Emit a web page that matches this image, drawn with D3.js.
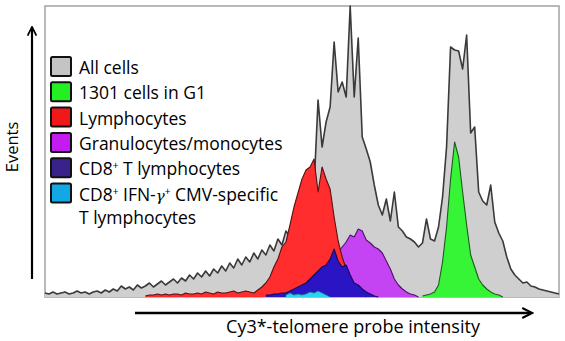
<!DOCTYPE html>
<html>
<head>
<meta charset="utf-8">
<script src="https://cdn.jsdelivr.net/npm/d3@7"></script>
<style>
  body { margin: 0; background: #fff; }
  svg { display: block; font-family: "Open Sans", Lato, sans-serif; }
</style>
</head>
<body>
<div class="canvas"></div>
<script>
// histogram bins (4 channels wide), heights
const allCells = [4, 3, 5, 3, 4, 5, 3, 4, 6, 4, 5, 3, 5, 6, 4, 7, 5, 8, 6, 11,
  8, 10, 7, 12, 9, 11, 14, 10, 13, 16, 12, 15, 18, 14, 19, 16, 22, 18, 24, 20,
  26, 21, 28, 24, 31, 26, 34, 29, 38, 32, 40, 35, 44, 38, 47, 42, 52, 46, 58, 52,
  66, 60, 78, 72, 105, 90, 128, 110, 197, 150, 175, 190, 255, 205, 215, 200, 291, 200, 259, 160,
  148, 135, 112, 92, 82, 98, 76, 105, 70, 66, 60, 58, 55, 50, 54, 78, 58, 56, 70, 100,
  150, 250, 247, 246, 228, 262, 164, 170, 105, 96, 92, 112, 75, 64, 56, 40, 28, 22, 18, 14,
  15, 11, 10, 8, 7, 6, 5, 4, 3];
const allStart = 0;

const g1Cells = [1, 2, 3, 5, 12, 35, 70, 118, 155, 140, 105, 72, 42, 30, 18, 12, 8, 5, 3, 2, 0];
const g1Start = 94;

const lymphocytes = [1, 2, 2, 3, 2, 3, 2, 3, 3, 2, 4, 3, 3, 4, 3, 5, 4, 3, 5, 4,
  4, 5, 6, 4, 5, 6, 5, 4, 7, 10, 14, 20, 30, 38, 50, 55, 72, 90, 104, 118,
  127, 130, 138, 105, 130, 118, 108, 80, 56, 40, 28, 16, 10, 5, 2, 0];
const lymphStart = 25;

const granulocytes = [2, 4, 6, 8, 10, 15, 20, 30, 40, 45, 50, 55, 62, 60, 68, 66, 57, 54, 50, 48,
  44, 36, 28, 18, 12, 8, 5, 3, 2, 0];
const granStart = 64;

const cd8 = [2, 2, 3, 3, 4, 4, 6, 8, 10, 12, 14, 18, 22, 26, 30, 32, 38, 48, 36, 30,
  32, 22, 14, 12, 8, 5, 3, 1, 0];
const cd8Start = 55;

const cmvSpecific = [2, 4, 2, 3, 2, 3, 5, 4, 6, 4, 2, 0];
const cmvStart = 60;

const legendLabels = [
  ['All cells'],
  ['1301 cells in G1'],
  ['Lymphocytes'],
  ['Granulocytes/monocytes'],
  ['CD8', '+', ' T lymphocytes'],
  ['CD8', '+', ' IFN-', 'γ', '+', ' CMV-specific']
];

const width = 565, height = 341;
const plot = { left: 45, right: 559, top: 6, bottom: 297 };

const svg = d3.select('.canvas').append('svg')
  .attr('width', width)
  .attr('height', height);

const x = d3.scaleLinear().domain([0, 128]).range([plot.left, plot.right]);
const y = d3.scaleLinear().domain([0, 291]).range([plot.bottom, plot.top]);

// frame
svg.append('rect')
  .attr('x', plot.left).attr('y', plot.top)
  .attr('width', plot.right - plot.left).attr('height', plot.bottom - plot.top)
  .attr('fill', 'none').attr('stroke', '#a3a3a3').attr('stroke-width', 1.5);

const series = [
  { values: allCells, start: allStart, fill: '#cfcfcf', stroke: '#3a3a3a', sw: 1.6 },
  { values: g1Cells, start: g1Start, fill: '#36f536', stroke: '#1e5a1e', sw: 1.1 },
  { values: granulocytes, start: granStart, fill: '#c444f4', stroke: '#4d1266', sw: 1.1 },
  { values: lymphocytes, start: lymphStart, fill: '#ff2d2d', stroke: '#5a1010', sw: 1.1 },
  { values: cd8, start: cd8Start, fill: '#2a14c4', stroke: '#140a50', sw: 1.1 },
  { values: cmvSpecific, start: cmvStart, fill: '#26d6f0', stroke: '#1a7a8a', sw: 0.8 }
];

series.forEach(s => {
  const pts = s.values.map((v, i) => [s.start + i, v]);
  const area = d3.area()
    .x(d => x(d[0]))
    .y0(y(0))
    .y1(d => y(d[1]));
  const line = d3.line()
    .x(d => x(d[0]))
    .y(d => y(d[1]));
  svg.append('path')
    .attr('d', area(pts))
    .attr('fill', s.fill);
  svg.append('path')
    .attr('d', line(pts))
    .attr('fill', 'none')
    .attr('stroke', s.stroke)
    .attr('stroke-width', s.sw)
    .attr('stroke-linejoin', 'round');
});

// arrows
const defs = svg.append('defs');
defs.append('marker')
  .attr('id', 'head')
  .attr('viewBox', '0 0 10 10')
  .attr('refX', 8).attr('refY', 5)
  .attr('markerWidth', 5).attr('markerHeight', 5)
  .attr('orient', 'auto')
  .append('path')
  .attr('d', 'M1,1 L9,5 L1,9')
  .attr('fill', 'none').attr('stroke', '#000').attr('stroke-width', 1.6);

svg.append('line')
  .attr('x1', 32).attr('y1', 279).attr('x2', 32).attr('y2', 28)
  .attr('stroke', '#000').attr('stroke-width', 2.2)
  .attr('marker-end', 'url(#head)');

svg.append('line')
  .attr('x1', 135).attr('y1', 313).attr('x2', 531).attr('y2', 313)
  .attr('stroke', '#000').attr('stroke-width', 2.5)
  .attr('marker-end', 'url(#head)');

svg.append('text')
  .attr('transform', 'translate(18,147) rotate(-90)')
  .attr('text-anchor', 'middle')
  .attr('font-size', 16.5)
  .text('Events');

svg.append('text')
  .attr('x', 353).attr('y', 333)
  .attr('text-anchor', 'middle')
  .attr('font-size', 18)
  .text('Cy3*-telomere probe intensity');

// legend
const legendColors = ['#c4c4c4', '#22f022', '#f01818', '#c41cf0', '#38238a', '#12a8e6'];
const legend = svg.append('g').attr('transform', 'translate(51,57)');
legendLabels.forEach((parts, i) => {
  const row = legend.append('g').attr('transform', `translate(0,${i * 25.3})`);
  row.append('rect')
    .attr('x', 0).attr('y', 0).attr('width', 20).attr('height', 19)
    .attr('rx', 1.5)
    .attr('fill', legendColors[i]).attr('stroke', '#111').attr('stroke-width', 2);
  const t = row.append('text').attr('x', 28).attr('y', 17).attr('font-size', 17.5);
  let back = 0;
  parts.forEach(p => {
    if (p === '+') {
      t.append('tspan').attr('dy', -6).attr('font-size', 10).text(p);
      back = 6;
    } else {
      const ts = t.append('tspan').attr('dy', back).text(p);
      back = 0;
      if (p === 'γ') {
        ts.attr('font-style', 'italic').attr('font-family', 'DejaVu Serif').attr('font-size', 15);
      }
    }
  });
});
legend.append('text')
  .attr('x', 28).attr('y', 5 * 25.3 + 17 + 23.5)
  .attr('font-size', 17.5)
  .text('T lymphocytes');
</script>
</body>
</html>
